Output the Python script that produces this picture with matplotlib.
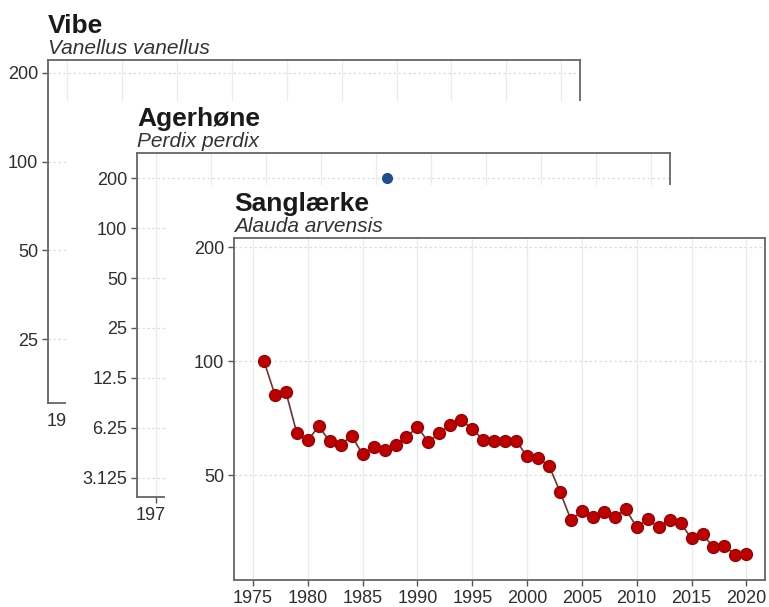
import matplotlib.pyplot as plt
from matplotlib.ticker import FixedLocator, FixedFormatter

# Sanglærke (Alauda arvensis) index values
years = list(range(1976, 2021))
sanglaerke = [100, 81.5, 83, 64.5, 61.8, 67.2, 61.4, 60, 63.5, 56.7,
              59.2, 58.3, 60, 62.9, 67.1, 61, 64.5, 67.9, 70, 66.1,
              62, 61.4, 61.6, 61.6, 56, 55.3, 52.9, 45.2, 38.1, 40.1,
              38.8, 40, 38.8, 40.6, 36.4, 38.2, 36.4, 38.1, 37.3, 34,
              34.9, 32.2, 32.4, 30.8, 31]

# Agerhøne: only one point is visible above the front panel
agerhone_years = [1996]
agerhone = [200]

x_ticks = [1975, 1980, 1985, 1990, 1995, 2000, 2005, 2010, 2015, 2020]
vibe_yticks = [25, 50, 100, 200]
agerhone_yticks = [3.125, 6.25, 12.5, 25, 50, 100, 200]
sang_yticks = [50, 100, 200]

W, H = 769, 607
fig = plt.figure(figsize=(W / 100, H / 100), dpi=100)
plt.rcParams['font.family'] = ['Liberation Sans', 'DejaVu Sans']


def rect(left, top, right, bottom):
    return [left / W, 1 - bottom / H, (right - left) / W, (bottom - top) / H]


def panel(z, bg_box, ax_box, title, latin, yticks, ylim):
    # white card behind each panel hides the panels further back
    bg = fig.add_axes(rect(*bg_box), zorder=z)
    bg.set_facecolor('white')
    bg.set_xticks([])
    bg.set_yticks([])
    for s in bg.spines.values():
        s.set_visible(False)

    ax = fig.add_axes(rect(*ax_box), zorder=z + 1)
    ax.set_facecolor('white')
    ax.set_yscale('log', base=2)
    ax.set_ylim(*ylim)
    ax.set_xlim(1973.27, 2021.7)
    ax.yaxis.set_major_locator(FixedLocator(yticks))
    ax.yaxis.set_major_formatter(FixedFormatter([f'{t:g}' for t in yticks]))
    ax.yaxis.set_minor_locator(FixedLocator([]))
    ax.set_xticks(x_ticks)
    ax.set_xticklabels([str(t) for t in x_ticks])
    ax.tick_params(labelsize=13, colors='#555555', labelcolor='#2e2e2e',
                   length=4, width=1, pad=3)
    for s in ax.spines.values():
        s.set_color('#666666')
        s.set_linewidth(1.3)
    ax.grid(axis='x', color='#ebebeb', linewidth=0.9)
    ax.grid(axis='y', color='#dcdcdc', linewidth=0.9, linestyle=(0, (2, 2)))
    ax.set_axisbelow(True)

    h = ax_box[3] - ax_box[1]
    ax.text(0, 1 + 27 / h, title, transform=ax.transAxes, fontsize=19,
            fontweight='bold', color='#1a1a1a', va='baseline', ha='left')
    ax.text(0, 1 + 6 / h, latin, transform=ax.transAxes, fontsize=15,
            style='italic', color='#333333', va='baseline', ha='left')
    return ax


ax_vibe = panel(1, (0, 0, 600, 450), (48, 60, 580, 403),
                'Vibe', 'Vanellus vanellus', vibe_yticks, (15.2, 221))

ax_ager = panel(3, (66, 101, 710, 560), (137, 153, 670, 497),
                'Agerhøne', 'Perdix perdix', agerhone_yticks, (2.4, 283))
ax_ager.plot(agerhone_years, agerhone, 'o', color='#1f4e8c', markersize=7)

ax_sang = panel(5, (165, 185, 769, 607), (234, 238, 765, 580),
                'Sanglærke', 'Alauda arvensis', sang_yticks, (26.4, 211.4))
ax_sang.plot(years, sanglaerke, '-', color='#6b3535', linewidth=1.2, zorder=2)
ax_sang.plot(years, sanglaerke, 'o', color='#be0000', markersize=8.5,
             markeredgecolor='#9a0000', zorder=3)

fig.savefig('out.png', dpi=100, facecolor='white')
